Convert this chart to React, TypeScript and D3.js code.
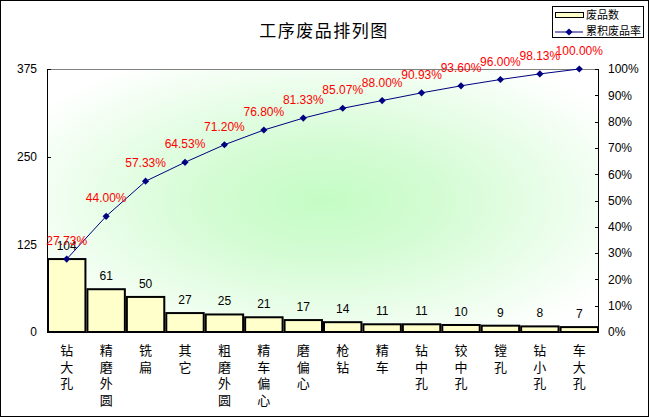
import { useEffect } from "react";
import * as d3 from "d3";

const categories = [
  "钻大孔", "精磨外圆", "铣扁", "其它", "粗磨外圆", "精车偏心", "磨偏心",
  "枪钻", "精车", "钻中孔", "铰中孔", "镗孔", "钻小孔", "车大孔",
];
const counts = [104, 61, 50, 27, 25, 21, 17, 14, 11, 11, 10, 9, 8, 7];
const cumPct = [
  27.73, 44.0, 57.33, 64.53, 71.2, 76.8, 81.33, 85.07, 88.0, 90.93, 93.6, 96.0,
  98.13, 100.0,
];
const leftTicks = [0, 125, 250, 375];
const rightTicks = [0, 10, 20, 30, 40, 50, 60, 70, 80, 90, 100];

const W = 649;
const H = 417;
const plot = { left: 47, right: 599, top: 69, bottom: 332 };
const latin = "'Liberation Sans', Arial, sans-serif";
const cjk = "'Noto Sans CJK SC', sans-serif";

export default function App() {
  useEffect(() => {
    document.body.style.margin = "0";
  }, []);

  const x = d3
    .scaleBand<string>()
    .domain(categories)
    .range([plot.left, plot.right])
    .padding(0);
  const yL = d3.scaleLinear().domain([0, 375]).range([plot.bottom, plot.top]);
  const yR = d3.scaleLinear().domain([0, 100]).range([plot.bottom, plot.top]);
  const cx = (c: string) => (x(c) ?? 0) + x.bandwidth() / 2;

  const line = d3
    .line<number>()
    .x((_, i) => cx(categories[i]))
    .y((d) => yR(d));

  const diamond = d3.symbol().type(d3.symbolSquare).size(26)();

  return (
    <svg width={W} height={H} style={{ display: "block" }}>
      <defs>
        <radialGradient id="bg" cx="0.5" cy="0.5" r="0.62">
          <stop offset="0" stopColor="#c4fcc4" />
          <stop offset="0.35" stopColor="#d4fcd4" />
          <stop offset="1" stopColor="#ffffff" />
        </radialGradient>
      </defs>
      <rect x={0.5} y={0.5} width={W - 1} height={H - 1} fill="#fff" stroke="#000" />

      <text
        x={324}
        y={37}
        textAnchor="middle"
        fontFamily={cjk}
        fontSize={17}
        letterSpacing={1.5}
        fill="#000"
      >
        工序废品排列图
      </text>

      {/* plot area */}
      <rect
        x={plot.left}
        y={plot.top}
        width={plot.right - plot.left}
        height={plot.bottom - plot.top}
        fill="url(#bg)"
      />
      <line x1={plot.left} x2={plot.right} y1={plot.top + 0.5} y2={plot.top + 0.5} stroke="#808080" />

      {/* bars */}
      {categories.map((c, i) => (
        <rect
          key={c}
          x={(x(c) ?? 0) + 1}
          y={yL(counts[i])}
          width={x.bandwidth() - 2}
          height={plot.bottom - yL(counts[i])}
          fill="#ffffcc"
          stroke="#000"
          strokeWidth={2}
        />
      ))}

      {/* axes */}
      <line x1={plot.left + 0.5} x2={plot.left + 0.5} y1={plot.top} y2={plot.bottom} stroke="#000" />
      <line x1={plot.right - 0.5} x2={plot.right - 0.5} y1={plot.top} y2={plot.bottom} stroke="#000" />
      <line x1={plot.left} x2={plot.right} y1={plot.bottom + 0.5} y2={plot.bottom + 0.5} stroke="#000" />
      {leftTicks.map((t) => (
        <g key={t}>
          <line x1={plot.left} x2={plot.left + 4} y1={Math.round(yL(t)) + 0.5} y2={Math.round(yL(t)) + 0.5} stroke="#000" />
          <text x={37} y={yL(t)} dy="0.36em" textAnchor="end" fontFamily={latin} fontSize={12}>
            {t}
          </text>
        </g>
      ))}
      {rightTicks.map((t) => (
        <g key={t}>
          <line x1={plot.right - 4} x2={plot.right} y1={Math.round(yR(t)) + 0.5} y2={Math.round(yR(t)) + 0.5} stroke="#000" />
          <text x={608} y={yR(t)} dy="0.36em" textAnchor="start" fontFamily={latin} fontSize={12}>
            {t}%
          </text>
        </g>
      ))}

      {/* x category labels, stacked vertically */}
      {categories.map((c) => (
        <text key={c} x={cx(c)} y={355} textAnchor="middle" fontFamily={cjk} fontSize={13}>
          {Array.from(c).map((ch, j) => (
            <tspan key={j} x={cx(c)} dy={j === 0 ? 0 : 16.7}>
              {ch}
            </tspan>
          ))}
        </text>
      ))}

      {/* count labels */}
      {categories.map((c, i) => (
        <text key={c} x={cx(c)} y={yL(counts[i]) - 9} textAnchor="middle" fontFamily={latin} fontSize={12}>
          {counts[i]}
        </text>
      ))}

      {/* cumulative line */}
      <path d={line(cumPct) ?? ""} fill="none" stroke="#000080" strokeWidth={1} />
      {categories.map((c, i) => (
        <path
          key={c}
          d={diamond ?? ""}
          transform={`translate(${cx(c)},${yR(cumPct[i])}) rotate(45)`}
          fill="#000080"
        />
      ))}
      {categories.map((c, i) => (
        <text
          key={c}
          x={cx(c)}
          y={yR(cumPct[i]) - 14}
          textAnchor="middle"
          fontFamily={latin}
          fontSize={12}
          fill="#ff0000"
        >
          {cumPct[i].toFixed(2)}%
        </text>
      ))}

      {/* legend */}
      <rect x={552.5} y={6.5} width={91} height={31} fill="#fff" stroke="#000" />
      <rect x={555.5} y={12.5} width={28} height={5} fill="#ffffcc" stroke="#000" />
      <text x={586} y={15} dy="0.36em" fontFamily={cjk} fontSize={11}>
        废品数
      </text>
      <line x1={555} x2={583} y1={32} y2={32} stroke="#000080" />
      <path d={diamond ?? ""} transform="translate(569,32) rotate(45)" fill="#000080" />
      <text x={586} y={31} dy="0.36em" fontFamily={cjk} fontSize={11}>
        累积废品率
      </text>
    </svg>
  );
}
